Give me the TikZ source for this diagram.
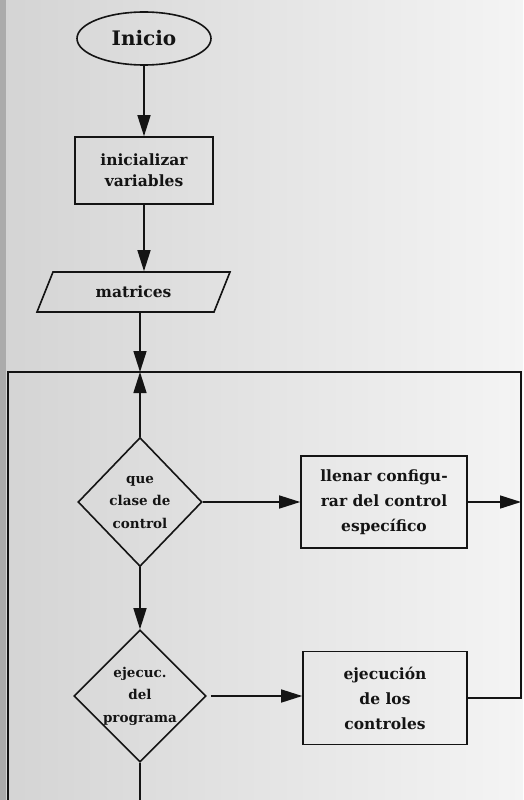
\documentclass[tikz,border=0pt]{standalone}
\usepackage{fontspec}
\setmainfont{DejaVu Serif}
\usetikzlibrary{arrows.meta,positioning,shapes.geometric}
\definecolor{pagegray}{HTML}{D4D4D4}
\definecolor{pagelight}{HTML}{F4F4F4}
\definecolor{pageedge}{HTML}{ABABAB}
\definecolor{inkdark}{HTML}{141414}

\begin{document}
\begin{tikzpicture}[x=1pt, y=-1pt,
    flow/.style={draw=inkdark, line width=1.6pt, text=inkdark, align=center,
        font=\fontsize{15.5}{21}\selectfont\bfseries},
    procbox/.style={flow, rectangle, inner sep=2pt},
    decision/.style={flow, diamond, inner sep=-4pt, font=\fontsize{13.5}{22.5}\selectfont\bfseries},
    link/.style={draw=inkdark, line width=1.5pt},
    arr/.style={link, -{Triangle[length=21pt, width=13pt]}}]
    % Page (scanned paper tone)
    \useasboundingbox (0,0) rectangle (523,800);
    \clip (0,0) rectangle (523,800);
    \shade[left color=pagegray, right color=pagelight] (0,0) rectangle (523,800);
    \fill[pageedge] (0,0) rectangle (6,800);

    % === Start ===
    \node[flow, ellipse, minimum width=134pt, minimum height=53pt,
        font=\fontsize{20}{22}\selectfont\bfseries] (inicio) at (144,38.5) {Inicio};
    \node[procbox, minimum width=138pt, minimum height=67pt] (init) at (144,170.5) {inicializar\\variables};
    \node[flow, trapezium, trapezium left angle=45, trapezium right angle=135,
        trapezium stretches body, minimum width=193pt, minimum height=40pt,
        inner sep=2pt] (matrices) at (133.5,292) {matrices};

    % Loop frame corners
    \coordinate (top) at (140,372);
    \coordinate (nw) at (8,372);
    \coordinate (ne) at (521,372);
    \coordinate (sw) at (8,806);
    \coordinate (bot) at (140,806);

    % === Loop body ===
    \node[decision, minimum width=124pt, minimum height=129pt] (clase) at (140,502) {que\\clase de\\control};
    \node[procbox, minimum width=166pt, minimum height=92pt,
        font=\fontsize{15.5}{25}\selectfont\bfseries] (llenar) at (384,502) {llenar configu-\\rar del control\\específico};
    \node[decision, minimum width=132pt, minimum height=132pt] (ejecprog) at (140,696) {ejecuc.\\del\\programa};
    \node[procbox, minimum width=164pt, minimum height=93pt,
        font=\fontsize{15.5}{25}\selectfont\bfseries] (ejecctrl) at (385,698) {ejecución\\de los\\controles};

    % Connectors
    \draw[arr] (inicio.south) -- (inicio.south |- init.north);
    \draw[arr] (init.south) -- (init.south |- matrices.north);
    \draw[arr] (top |- matrices.south) -- (top);
    \draw[arr] (clase.north) -- (top);
    \draw[arr] (clase.east) -- (llenar.west);
    \draw[arr] (llenar.east) -- (llenar.east -| ne);
    \draw[arr] (clase.south) -- (ejecprog.north);
    \draw[arr] ([xshift=4pt]ejecprog.east) -- (ejecprog.east -| ejecctrl.west);
    \draw[link] (ejecctrl.east) -- (ejecctrl.east -| ne) -- (ne) -- (nw) -- (sw);
    \draw[link] (ejecprog.south) -- (bot);
\end{tikzpicture}
\end{document}
